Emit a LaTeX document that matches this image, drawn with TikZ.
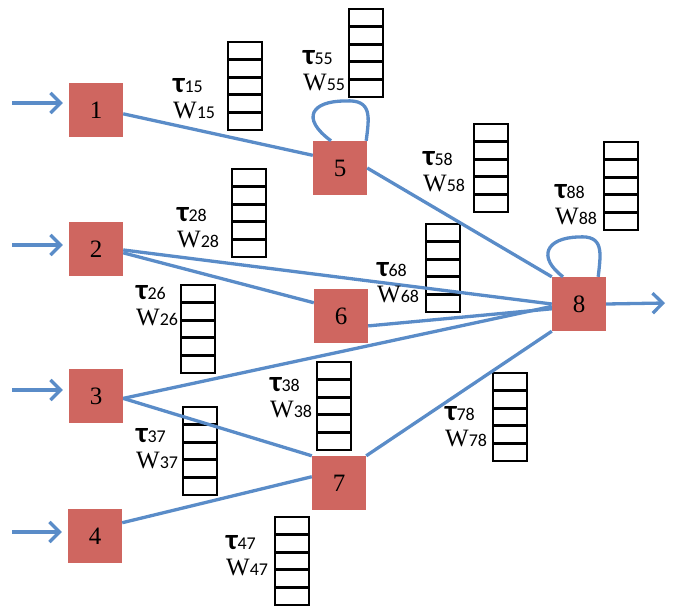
\documentclass[tikz,border=0pt]{standalone}
\usepackage{fontspec}
\setmainfont{Liberation Serif}
\newfontfamily\cfont{Carlito}
\usetikzlibrary{arrows.meta}
\definecolor{boxred}{RGB}{207,102,96}
\definecolor{linkblue}{RGB}{90,140,200}
\newcommand{\tw}[1]{{\cfont\bfseries\fontsize{29}{29}\selectfont τ}{\cfont\fontsize{18}{18}\selectfont #1}\\W{\cfont\fontsize{18}{18}\selectfont #1}}
\tikzset{
  box/.style={fill=boxred, minimum size=54pt, inner sep=0pt, font=\fontsize{25}{25}\selectfont},
  link/.style={draw=linkblue, line width=3.3pt},
  feed/.style={link, -{Straight Barb[length=10pt,width=20pt]}},
  lbl/.style={align=left, inner sep=0pt, anchor=west, font=\fontsize{25}{26}\selectfont},
  qframe/.style={draw=black, line width=1.7pt},
  qline/.style={draw=black, line width=3.2pt}
}
\begin{document}
\begin{tikzpicture}[x=1pt,y=-1pt]
   \useasboundingbox (0,0) rectangle (674,605);

   % queues
   \foreach \qx/\qy in {228/42, 349/9, 474/124, 604/142, 232/169, 426/224,
                        181/285, 183/407, 317/362, 493/373, 275/517}{
     \foreach \k in {1,...,4}
       \draw[qline] (\qx,\qy+17.6*\k) -- ++(34,0);
     \draw[qframe] (\qx,\qy) rectangle ++(34,88);
   }

   % nodes
   \node[box] (n1) at (96,110) {1};
   \node[box] (n2) at (96,249) {2};
   \node[box] (n3) at (96,396) {3};
   \node[box] (n4) at (95,536) {4};
   \node[box] (n5) at (340,168) {5};
   \node[box] (n6) at (341,316) {6};
   \node[box] (n7) at (339,483) {7};
   \node[box] (n8) at (579,304) {8};

   % links
   \draw[link] (n1.-8) -- (n5.155);
   \draw[link] (n2.-2) -- (n8.west);
   \draw[link] (n2.-8) -- (n6.154);
   \draw[link] (n3.-5) -- (n8.185);
   \draw[link] (n3.-5) -- (n7.north west);
   \draw[link] (n4.26) -- (n7.167);
   \draw[link] (n5.east) -- (n8.north west);
   \draw[link] (n6.-20) -- (n8.190);
   \draw[link] (n7.north east) -- (n8.south west);
   \draw[link] ([xshift=-9pt]n5.north) .. controls (300,118) and (312,101) .. (345,101)
               .. controls (373,99) and (369,118) .. ([xshift=-1pt]n5.north east);
   \draw[link] ([xshift=-16pt]n8.north) .. controls (537,257) and (546,238) .. (578,237)
               .. controls (604,235) and (601,252) .. ([xshift=-8pt]n8.north east);

   % in and out
   \coordinate (in1) at (12,103);
   \coordinate (in2) at (12,245);
   \coordinate (in3) at (12,390);
   \coordinate (in4) at (12,532);
   \coordinate (out) at (665,303);
   \draw[feed] (in1) -- ([shift={(-6,-7)}]n1.west);
   \draw[feed] (in2) -- ([shift={(-6,-4)}]n2.west);
   \draw[feed] (in3) -- ([shift={(-6,-6)}]n3.west);
   \draw[feed] (in4) -- ([shift={(-6,-4)}]n4.west);
   \draw[feed] (n8.east) -- (out);

   % labels
   \node[lbl] (l15) at (173,99) {\tw{15}};
   \node[lbl] (l55) at (303,71) {\tw{55}};
   \node[lbl] (l58) at (423,172) {\tw{58}};
   \node[lbl] (l88) at (555,205) {\tw{88}};
   \node[lbl] (l28) at (177,228) {\tw{28}};
   \node[lbl] (l68) at (377,283) {\tw{68}};
   \node[lbl] (l26) at (136,306) {\tw{26}};
   \node[lbl] (l37) at (136,449) {\tw{37}};
   \node[lbl] (l38) at (270,398) {\tw{38}};
   \node[lbl] (l78) at (445,427) {\tw{78}};
   \node[lbl] (l47) at (226,556) {\tw{47}};
\end{tikzpicture}
\end{document}
